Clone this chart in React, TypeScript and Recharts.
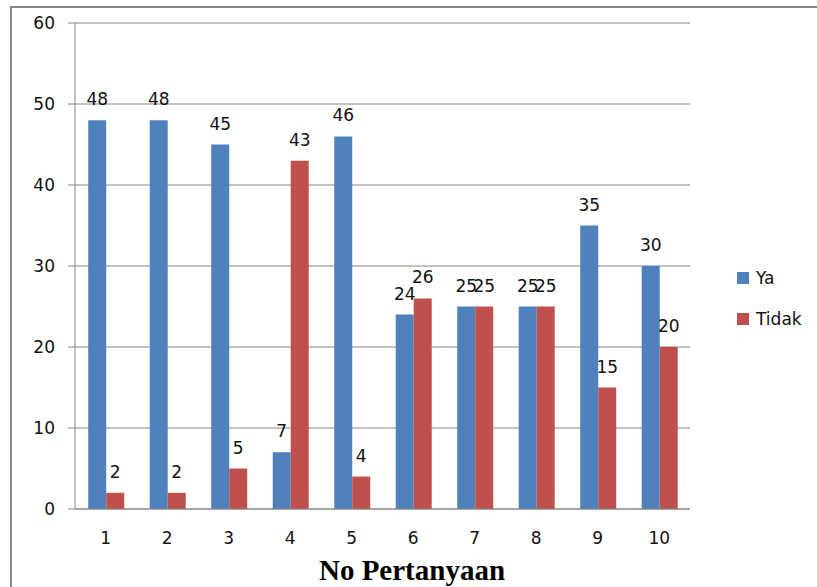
import { BarChart, Bar, XAxis, YAxis, CartesianGrid, LabelList } from "recharts"

const questions = ["1", "2", "3", "4", "5", "6", "7", "8", "9", "10"]
const ya = [48, 48, 45, 7, 46, 24, 25, 25, 35, 30]
const tidak = [2, 2, 5, 43, 4, 26, 25, 25, 15, 20]
const yTicks = [0, 10, 20, 30, 40, 50, 60]
const boundaryTicks = [0, 1, 2, 3, 4, 5, 6, 7, 8, 9, 10]

const data = questions.map((q, i) => ({ q, ya: ya[i], tidak: tidak[i] }))

const BLUE = "#4F81BD"
const RED = "#C0504D"
const GREY = "#868686"
const FONT = "'DejaVu Sans', sans-serif"

export default function App() {
  const tickStyle = { fontSize: 17, fill: "#111", fontFamily: FONT }

  return (
    <div style={{ position: "absolute", left: 0, top: 0, width: 817, height: 587, background: "#fff", overflow: "hidden" }}>
      {/* frame */}
      <div
        style={{
          position: "absolute",
          left: 10,
          top: 6,
          width: 820,
          height: 600,
          borderTop: `2px solid ${GREY}`,
          borderLeft: `2px solid ${GREY}`,
        }}
      />
      <div style={{ position: "absolute", left: 0, top: 0 }}>
        <BarChart
          width={817}
          height={587}
          data={data}
          margin={{ top: 23, right: 127, left: 0, bottom: 0 }}
          barCategoryGap="21.5%"
          barGap={0}
        >
          <CartesianGrid vertical={false} stroke={GREY} strokeWidth={1} />
          <XAxis
            xAxisId="ticks"
            type="number"
            domain={[0, 10]}
            ticks={boundaryTicks}
            tick={false}
            tickSize={7}
            tickLine={{ stroke: GREY }}
            axisLine={false}
            height={0}
          />
          <XAxis
            xAxisId="cat"
            dataKey="q"
            height={78}
            axisLine={{ stroke: GREY }}
            tickLine={false}
            tickSize={0}
            tickMargin={23}
            tick={tickStyle}
          />
          <YAxis
            width={75}
            domain={[0, 60]}
            ticks={yTicks}
            axisLine={{ stroke: GREY }}
            tickLine={{ stroke: GREY }}
            tickSize={7}
            tickMargin={13}
            tick={tickStyle}
          />
          <Bar dataKey="ya" xAxisId="cat" fill={BLUE} isAnimationActive={false}>
            <LabelList dataKey="ya" position="top" offset={15} style={{ fontSize: 17, fill: "#111", fontFamily: FONT }} />
          </Bar>
          <Bar dataKey="tidak" xAxisId="cat" fill={RED} isAnimationActive={false}>
            <LabelList dataKey="tidak" position="top" offset={15} style={{ fontSize: 17, fill: "#111", fontFamily: FONT }} />
          </Bar>
        </BarChart>
      </div>
      {/* axis title */}
      <div
        style={{
          position: "absolute",
          left: 262,
          width: 300,
          top: 553,
          textAlign: "center",
          fontFamily: "'Liberation Serif', serif",
          fontWeight: "bold",
          fontSize: 29,
          lineHeight: "34px",
          color: "#000",
        }}
      >
        No Pertanyaan
      </div>
      {/* legend */}
      {[
        { name: "Ya", color: BLUE, top: 272 },
        { name: "Tidak", color: RED, top: 313 },
      ].map((s) => (
        <div key={s.name} style={{ position: "absolute", left: 737, top: s.top - 3, display: "flex", alignItems: "center", fontFamily: FONT, fontSize: 17, color: "#111" }}>
          <span style={{ width: 12, height: 12, background: s.color, display: "inline-block", marginRight: 7 }} />
          <span style={{ lineHeight: "18px" }}>{s.name}</span>
        </div>
      ))}
    </div>
  )
}
